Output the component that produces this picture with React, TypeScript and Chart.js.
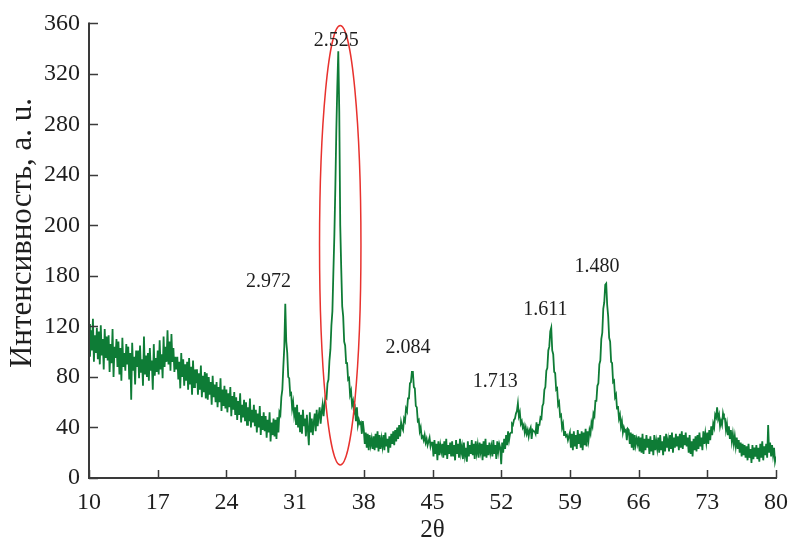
import { useEffect, useRef } from "react";
import { Chart, registerables } from "chart.js";

Chart.register(...registerables);

// Scan: 2θ from 10.0 to 80.0, step 0.1 (one row per degree)
const X_START = 10;
const X_STEP = 0.1;
const intensity: number[] = [
  // 10
  122, 96, 117, 101, 126, 92, 113, 99, 119, 94,
  116, 90, 121, 97, 110, 86, 118, 95, 112, 93,
  113, 84, 106, 91, 118, 80, 104, 95, 110, 88,
  108, 82, 103, 77, 111, 88, 99, 85, 106, 90,
  104, 78, 99, 62, 107, 85, 96, 74, 101, 88,
  // 15
  101, 79, 105, 84, 94, 73, 112, 82, 97, 80,
  99, 77, 103, 85, 93, 70, 106, 81, 95, 84,
  101, 82, 109, 86, 98, 79, 112, 88, 104, 92,
  117, 90, 108, 85, 114, 92, 103, 84, 96, 86,
  96, 78, 92, 71, 99, 80, 94, 73, 90, 77,
  // 20
  92, 70, 95, 74, 88, 66, 93, 72, 86, 75,
  86, 66, 83, 70, 89, 64, 81, 68, 84, 63,
  83, 62, 80, 66, 76, 58, 81, 64, 74, 60,
  76, 56, 72, 60, 79, 53, 70, 57, 73, 55,
  70, 52, 67, 56, 72, 49, 65, 54, 68, 50,
  // 25
  64, 46, 61, 50, 67, 44, 58, 48, 62, 45,
  60, 42, 56, 45, 63, 40, 54, 44, 58, 41,
  54, 36, 51, 40, 57, 34, 49, 38, 52, 37,
  49, 32, 46, 36, 52, 29, 44, 34, 47, 33,
  46, 31, 48, 36, 52, 50, 64, 70, 88, 104,
  // 30
  138, 108, 99, 80, 79, 66, 67, 55, 60, 50,
  56, 42, 58, 40, 52, 37, 50, 35, 54, 41,
  47, 33, 50, 38, 26, 52, 36, 47, 34, 44,
  51, 37, 54, 41, 49, 56, 43, 52, 58, 49,
  58, 64, 63, 75, 78, 93, 102, 121, 132, 163,
  // 35
  192, 230, 275, 310, 338, 290, 200, 166, 136, 128,
  108, 105, 91, 91, 78, 79, 66, 69, 58, 61,
  52, 55, 45, 56, 42, 46, 43, 44, 35, 45,
  38, 27, 36, 24, 35, 22, 34, 26, 31, 23,
  33, 22, 35, 24, 37, 21, 34, 23, 31, 25,
  // 40
  34, 22, 36, 25, 31, 20, 33, 24, 35, 27,
  37, 26, 38, 29, 40, 31, 42, 33, 44, 40,
  38, 47, 45, 55, 53, 63, 63, 75, 76, 84,
  84, 72, 71, 57, 56, 45, 46, 37, 40, 32,
  33, 30, 34, 28, 31, 26, 29, 32, 25, 28,
  // 45
  28, 17, 30, 19, 27, 14, 29, 18, 26, 21,
  27, 16, 29, 18, 31, 15, 26, 19, 28, 17,
  29, 17, 26, 14, 30, 19, 27, 16, 31, 20,
  25, 15, 28, 18, 24, 13, 29, 17, 26, 19,
  30, 18, 27, 15, 29, 20, 26, 16, 28, 21,
  // 50
  27, 14, 29, 17, 31, 16, 26, 18, 28, 20,
  25, 17, 30, 19, 26, 15, 29, 21, 27, 24,
  11, 28, 20, 31, 23, 34, 26, 37, 30, 35,
  36, 43, 42, 46, 47, 51, 53, 59, 49, 52,
  43, 45, 40, 42, 36, 40, 35, 38, 33, 38,
  // 55
  40, 31, 38, 37, 37, 35, 44, 35, 42, 42,
  48, 47, 57, 59, 70, 72, 85, 87, 101, 104,
  116, 119, 101, 98, 84, 83, 70, 71, 58, 60,
  49, 50, 40, 43, 34, 37, 33, 34, 30, 33,
  36, 24, 35, 22, 37, 25, 34, 23, 38, 27,
  // 60
  35, 24, 37, 22, 36, 26, 39, 25, 37, 30,
  38, 35, 44, 41, 51, 49, 61, 61, 73, 75,
  90, 93, 110, 115, 134, 139, 153, 154, 137, 128,
  111, 108, 92, 91, 76, 77, 64, 66, 55, 57,
  47, 50, 41, 45, 36, 40, 37, 38, 30, 39,
  // 65
  38, 27, 36, 24, 35, 22, 34, 26, 31, 27,
  33, 21, 32, 20, 35, 19, 31, 22, 34, 24,
  31, 19, 33, 21, 30, 18, 34, 22, 29, 23,
  32, 20, 34, 22, 29, 18, 33, 21, 35, 24,
  30, 21, 34, 23, 36, 20, 32, 24, 35, 25,
  // 70
  33, 22, 35, 24, 37, 23, 34, 26, 36, 25,
  32, 20, 34, 19, 29, 17, 31, 22, 33, 21,
  34, 23, 36, 25, 32, 22, 37, 27, 35, 28,
  36, 27, 38, 30, 41, 34, 43, 40, 50, 48,
  56, 47, 50, 41, 45, 42, 51, 47, 47, 38,
  // 75
  43, 34, 41, 31, 38, 29, 35, 27, 33, 25,
  32, 23, 30, 20, 28, 17, 27, 18, 26, 16,
  25, 14, 27, 16, 23, 12, 26, 15, 24, 17,
  26, 15, 24, 13, 27, 16, 29, 14, 25, 18,
  27, 16, 42, 20, 28, 17, 26, 18, 24, 13,
  // 80
  17,
];

const xTicks = [10, 17, 24, 31, 38, 45, 52, 59, 66, 73, 80];
const yTicks = [0, 40, 80, 120, 160, 200, 240, 280, 320, 360];
const yTickLabels = ["0", "40", "80", "120", "180", "200", "240", "280", "320", "360"];

const peakLabels = ["2.525", "2.972", "2.084", "1.713", "1.611", "1.480"];
const peakLabelX = [35.2, 28.3, 42.5, 51.4, 56.5, 61.76];
const peakLabelY = [346.5, 155.8, 103.2, 76.2, 132.9, 167.5];

const ellipseCenter = [35.6, 184.3];
const ellipseRadii = [2.11, 174];

const xTitle = "2θ";
const yTitle = "Интенсивность, а. u.";

const FONT = '"Liberation Serif", "Times New Roman", serif';
const AXIS_COLOR = "#3a3a3a";
const TEXT_COLOR = "#1e1e1e";

const overlayPlugin = {
  id: "overlay",
  afterDatasetsDraw(chart: any) {
    const { ctx, chartArea, scales } = chart;
    const xs = scales.x;
    const ys = scales.y;
    ctx.save();
    // axis lines
    ctx.strokeStyle = AXIS_COLOR;
    ctx.lineWidth = 2;
    ctx.beginPath();
    ctx.moveTo(chartArea.left, chartArea.top - 1);
    ctx.lineTo(chartArea.left, chartArea.bottom);
    ctx.lineTo(chartArea.right + 1, chartArea.bottom);
    ctx.stroke();
    // inward ticks
    ctx.lineWidth = 1.5;
    ctx.beginPath();
    for (const v of yTicks) {
      const y = Math.round(ys.getPixelForValue(v)) + 0.5;
      ctx.moveTo(chartArea.left, y);
      ctx.lineTo(chartArea.left + 9, y);
    }
    for (const v of xTicks) {
      const x = Math.round(xs.getPixelForValue(v)) + 0.5;
      ctx.moveTo(x, chartArea.bottom);
      ctx.lineTo(x, chartArea.bottom - 8);
    }
    ctx.stroke();
    // ellipse
    const cx = xs.getPixelForValue(ellipseCenter[0]);
    const cy = ys.getPixelForValue(ellipseCenter[1]);
    const rx = Math.abs(xs.getPixelForValue(ellipseCenter[0] + ellipseRadii[0]) - cx);
    const ry = Math.abs(ys.getPixelForValue(ellipseCenter[1] + ellipseRadii[1]) - cy);
    ctx.strokeStyle = "#e8322e";
    ctx.lineWidth = 1.5;
    ctx.beginPath();
    ctx.ellipse(cx, cy, rx, ry, 0, 0, Math.PI * 2);
    ctx.stroke();
    // peak labels
    ctx.fillStyle = TEXT_COLOR;
    ctx.font = `20px ${FONT}`;
    ctx.textAlign = "center";
    ctx.textBaseline = "middle";
    peakLabels.forEach((t, i) => {
      ctx.fillText(t, xs.getPixelForValue(peakLabelX[i]), ys.getPixelForValue(peakLabelY[i]));
    });
    // titles
    ctx.font = `25px ${FONT}`;
    ctx.fillText(xTitle, (chartArea.left + chartArea.right) / 2, 530);
    ctx.font = `31px ${FONT}`;
    ctx.translate(23, 233);
    ctx.rotate(-Math.PI / 2);
    ctx.fillText(yTitle, 0, 0);
    ctx.restore();
  },
};

export default function App() {
  const ref = useRef<HTMLCanvasElement | null>(null);
  useEffect(() => {
    if (!ref.current) return;
    const points = intensity.map((v, i) => ({ x: X_START + i * X_STEP, y: v }));
    const chart = new Chart(ref.current, {
      type: "line",
      data: {
        datasets: [
          {
            data: points,
            borderColor: "rgb(14,124,54)",
            borderWidth: 1.8,
            pointRadius: 0,
            tension: 0,
            fill: false,
          },
        ],
      },
      options: {
        animation: false,
        responsive: false,
        devicePixelRatio: 1,
        layout: { padding: { left: 0, right: 14, top: 23, bottom: 0 } },
        plugins: { legend: { display: false }, tooltip: { enabled: false } },
        scales: {
          x: {
            type: "linear",
            min: 10,
            max: 80,
            grid: { display: false, drawTicks: false },
            border: { display: false },
            afterBuildTicks: (s: any) => {
              s.ticks = xTicks.map((v) => ({ value: v }));
            },
            afterFit: (s: any) => {
              s.height = 65;
            },
            ticks: {
              padding: 10,
              autoSkip: false,
              maxRotation: 0,
              color: TEXT_COLOR,
              font: { family: FONT, size: 24 },
              callback: (v: any) => String(v),
            },
          },
          y: {
            type: "linear",
            min: 0,
            max: 360,
            grid: { display: false, drawTicks: false },
            border: { display: false },
            afterBuildTicks: (s: any) => {
              s.ticks = yTicks.map((v) => ({ value: v }));
            },
            afterFit: (s: any) => {
              s.width = 89;
            },
            ticks: {
              padding: 9,
              autoSkip: false,
              color: TEXT_COLOR,
              font: { family: FONT, size: 24 },
              callback: (v: any) => {
                const i = yTicks.indexOf(Number(v));
                return i >= 0 ? yTickLabels[i] : "";
              },
            },
          },
        },
      },
      plugins: [overlayPlugin],
    });
    return () => chart.destroy();
  }, []);
  return (
    <div style={{ position: "absolute", left: 0, top: 0, width: 798, height: 543, background: "#fff" }}>
      <canvas ref={ref} width={798} height={543} style={{ width: 798, height: 543 }} />
    </div>
  );
}
